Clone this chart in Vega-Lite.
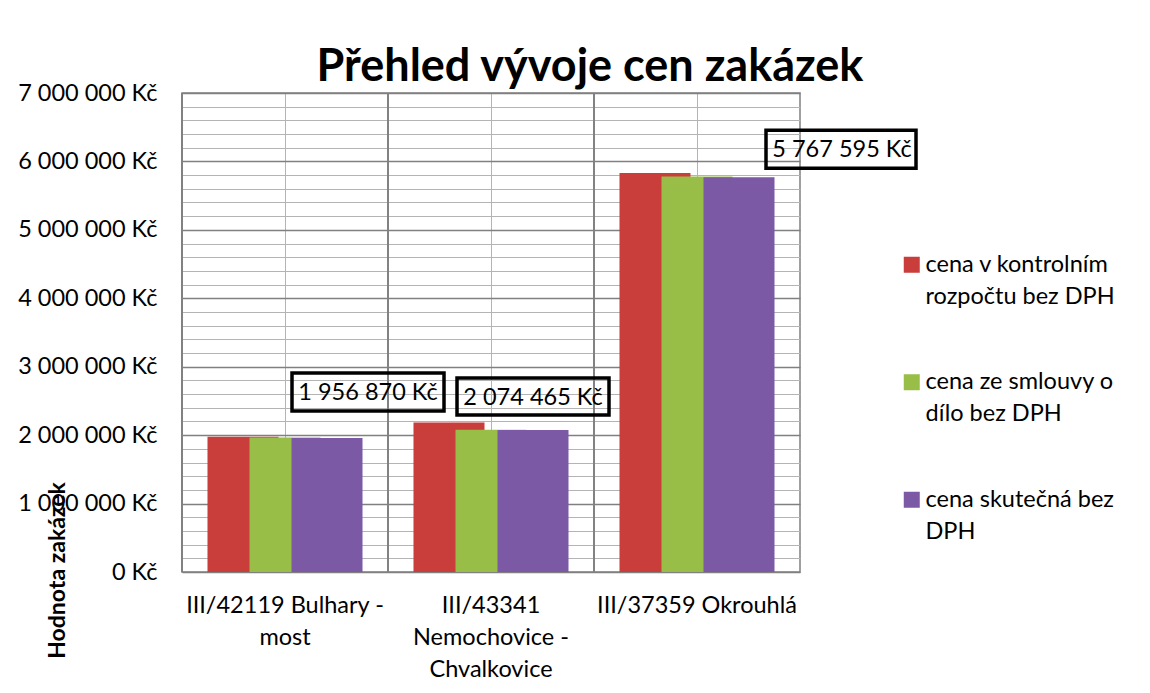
{
  "$schema": "https://vega.github.io/schema/vega-lite/v6.json",
  "width": 618,
  "height": 479,
  "autosize": {"type": "none"},
  "padding": {"left": 182, "top": 93, "right": 350, "bottom": 121},
  "background": "white",
  "title": {
    "text": "Přehled vývoje cen zakázek",
    "font": "Lato",
    "fontSize": 45,
    "fontWeight": "bold",
    "color": "black",
    "anchor": "middle",
    "frame": "group",
    "baseline": "alphabetic",
    "offset": 0,
    "dx": 99,
    "dy": 45
  },
  "config": {
    "locale": {
      "number": {"decimal": ",", "thousands": " ", "grouping": [3], "currency": ["", " Kč"]}
    },
    "view": {"stroke": "#808080", "strokeWidth": 1.5},
    "font": "Lato"
  },
  "data": {
    "values": [
      {"cat": "III/42119 Bulhary - most", "series": "cena v kontrolním rozpočtu bez DPH", "value": 1975000},
      {"cat": "III/42119 Bulhary - most", "series": "cena ze smlouvy o dílo bez DPH", "value": 1965000},
      {"cat": "III/42119 Bulhary - most", "series": "cena skutečná bez DPH", "value": 1956870},
      {"cat": "III/43341 Nemochovice - Chvalkovice", "series": "cena v kontrolním rozpočtu bez DPH", "value": 2183000},
      {"cat": "III/43341 Nemochovice - Chvalkovice", "series": "cena ze smlouvy o dílo bez DPH", "value": 2080000},
      {"cat": "III/43341 Nemochovice - Chvalkovice", "series": "cena skutečná bez DPH", "value": 2074465},
      {"cat": "III/37359 Okrouhlá", "series": "cena v kontrolním rozpočtu bez DPH", "value": 5830000},
      {"cat": "III/37359 Okrouhlá", "series": "cena ze smlouvy o dílo bez DPH", "value": 5780000},
      {"cat": "III/37359 Okrouhlá", "series": "cena skutečná bez DPH", "value": 5767595}
    ]
  },
  "encoding": {
    "x": {
      "field": "cat",
      "type": "nominal",
      "sort": null,
      "scale": {
        "domain": ["III/42119 Bulhary - most", "III/43341 Nemochovice - Chvalkovice", "III/37359 Okrouhlá"],
        "paddingInner": 0,
        "paddingOuter": 0
      },
      "axis": {
        "title": null,
        "labelAngle": 0,
        "labelExpr": "datum.value == 'III/42119 Bulhary - most' ? ['III/42119 Bulhary -', 'most'] : datum.value == 'III/43341 Nemochovice - Chvalkovice' ? ['III/43341', 'Nemochovice -', 'Chvalkovice'] : datum.label",
        "grid": true,
        "gridColor": "#b4b4b4",
        "gridWidth": 1,
        "ticks": false,
        "domain": false,
        "labelPadding": 21,
        "labelFont": "Lato",
        "labelFontSize": 23.5,
        "labelLineHeight": 32,
        "labelColor": "black",
        "labelLimit": 0,
        "labelOverlap": false
      }
    },
    "y": {
      "field": "value",
      "type": "quantitative",
      "scale": {"domain": [0, 7000000], "nice": false},
      "axis": {
        "title": "Hodnota zakázek",
        "values": [0, 200000, 400000, 600000, 800000, 1000000, 1200000, 1400000, 1600000, 1800000, 2000000, 2200000, 2400000, 2600000, 2800000, 3000000, 3200000, 3400000, 3600000, 3800000, 4000000, 4200000, 4400000, 4600000, 4800000, 5000000, 5200000, 5400000, 5600000, 5800000, 6000000, 6200000, 6400000, 6600000, 6800000, 7000000],
        "format": "$,.0f",
        "labelExpr": "datum.value % 1000000 === 0 ? datum.label : ''",
        "gridColor": {"condition": {"test": "datum.value % 1000000 === 0", "value": "#808080"}, "value": "#b4b4b4"},
        "gridWidth": {"condition": {"test": "datum.value % 1000000 === 0", "value": 1.5}, "value": 1},
        "ticks": false,
        "domain": false,
        "labelPadding": 25,
        "labelFont": "Lato",
        "labelFontSize": 23.5,
        "labelColor": "black",
        "labelOverlap": false,
        "titleFont": "Lato",
        "titleFontSize": 23,
        "titleFontWeight": "bold",
        "titleColor": "black",
        "titleAngle": 270,
        "titleAlign": "center",
        "titleBaseline": "middle",
        "titleX": -125,
        "titleY": 477
      }
    }
  },
  "layer": [
    {
      "mark": {"type": "rule", "color": "#808080", "strokeWidth": 1.5},
      "encoding": {
        "x": {"field": "cat", "type": "nominal", "sort": null, "bandPosition": 0},
        "y": {"datum": 0, "type": "quantitative"},
        "y2": {"datum": 7000000}
      }
    },
    {
      "mark": {"type": "bar", "width": 71},
      "encoding": {
        "xOffset": {
          "field": "series",
          "type": "nominal",
          "sort": null,
          "scale": {
            "domain": ["cena v kontrolním rozpočtu bez DPH", "cena ze smlouvy o dílo bez DPH", "cena skutečná bez DPH"],
            "paddingInner": 0,
            "paddingOuter": 0.952
          }
        },
        "color": {
          "field": "series",
          "type": "nominal",
          "sort": null,
          "scale": {
            "domain": ["cena v kontrolním rozpočtu bez DPH", "cena ze smlouvy o dílo bez DPH", "cena skutečná bez DPH"],
            "range": ["#C93D3A", "#99BE47", "#7B59A5"]
          },
          "legend": {
            "title": null,
            "orient": "none",
            "legendX": 710,
            "legendY": 160,
            "labelExpr": "datum.label == 'cena v kontrolním rozpočtu bez DPH' ? ['cena v kontrolním', 'rozpočtu bez DPH'] : datum.label == 'cena ze smlouvy o dílo bez DPH' ? ['cena ze smlouvy o', 'dílo bez DPH'] : ['cena skutečná bez', 'DPH']",
            "labelFont": "Lato",
            "labelFontSize": 23.5,
            "labelColor": "black",
            "labelLimit": 0,
            "labelBaseline": "middle",
            "labelOffset": 10,
            "symbolType": "M0,-8H16V8H0Z",
            "symbolSize": 4,
            "symbolStrokeWidth": 0,
            "rowPadding": 60.5,
            "encode": {"labels": {"update": {"lineHeight": {"value": 32}}}}
          }
        }
      }
    },
    {
      "transform": [{"filter": "datum.cat == 'III/42119 Bulhary - most' && datum.series == 'cena skutečná bez DPH'"}],
      "encoding": {
        "xOffset": {"field": "series", "type": "nominal", "sort": null}
      },
      "layer": [
        {"mark": {"type": "point", "shape": "M-35,-65H117V-27H-35Z", "size": 4, "filled": false, "stroke": "black", "strokeWidth": 3.5, "opacity": 1}},
        {"mark": {"type": "text", "dx": 41, "dy": -45, "font": "Lato", "fontSize": 23.5, "color": "black", "baseline": "middle", "align": "center"},
         "encoding": {"text": {"field": "value", "type": "quantitative", "format": "$,.0f"}}}
      ]
    },
    {
      "transform": [{"filter": "datum.cat == 'III/43341 Nemochovice - Chvalkovice' && datum.series == 'cena skutečná bez DPH'"}],
      "encoding": {
        "xOffset": {"field": "series", "type": "nominal", "sort": null}
      },
      "layer": [
        {"mark": {"type": "point", "shape": "M-76,-52H76V-15H-76Z", "size": 4, "filled": false, "stroke": "black", "strokeWidth": 3.5, "opacity": 1}},
        {"mark": {"type": "text", "dx": 0, "dy": -32, "font": "Lato", "fontSize": 23.5, "color": "black", "baseline": "middle", "align": "center"},
         "encoding": {"text": {"field": "value", "type": "quantitative", "format": "$,.0f"}}}
      ]
    },
    {
      "transform": [{"filter": "datum.cat == 'III/37359 Okrouhlá' && datum.series == 'cena skutečná bez DPH'"}],
      "encoding": {
        "xOffset": {"field": "series", "type": "nominal", "sort": null}
      },
      "layer": [
        {"mark": {"type": "point", "shape": "M27,-47H177V-9H27Z", "size": 4, "filled": false, "stroke": "black", "strokeWidth": 3.5, "opacity": 1}},
        {"mark": {"type": "text", "dx": 103, "dy": -27, "font": "Lato", "fontSize": 23.5, "color": "black", "baseline": "middle", "align": "center"},
         "encoding": {"text": {"field": "value", "type": "quantitative", "format": "$,.0f"}}}
      ]
    }
  ]
}
